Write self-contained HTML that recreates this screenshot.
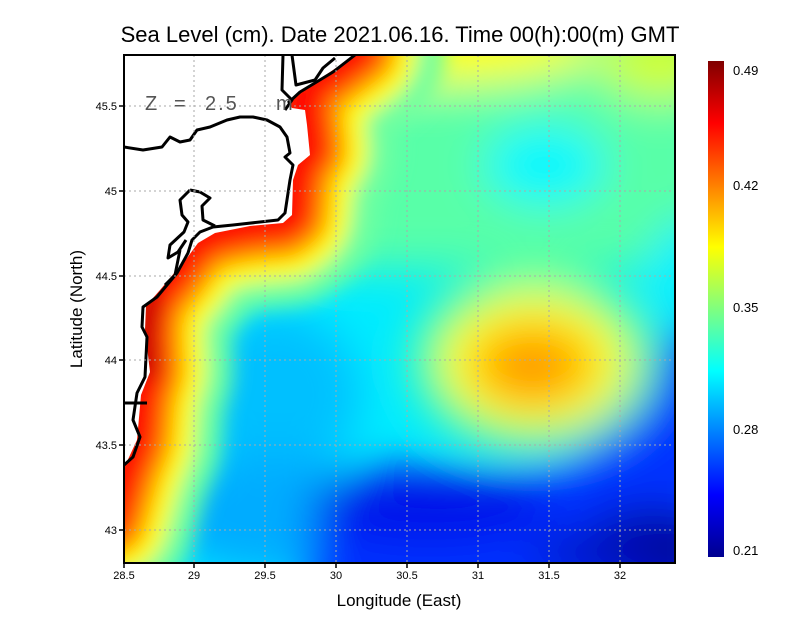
<!DOCTYPE html>
<html><head><meta charset="utf-8"><style>
html,body{margin:0;padding:0;background:#fff;}
svg{display:block;font-family:"Liberation Sans",sans-serif;}
</style></head><body>
<svg width="800" height="618" viewBox="0 0 800 618" xmlns="http://www.w3.org/2000/svg">
<defs>
<clipPath id="pc"><rect x="124" y="55" width="551" height="508"/></clipPath>
<filter id="b1" filterUnits="userSpaceOnUse" x="0" y="0" width="800" height="618"><feGaussianBlur stdDeviation="22"/></filter>
<filter id="b2" filterUnits="userSpaceOnUse" x="0" y="0" width="800" height="618"><feGaussianBlur stdDeviation="10"/></filter>
<linearGradient id="jet" x1="0" y1="1" x2="0" y2="0">
<stop offset="0" stop-color="#00008f"/><stop offset="0.125" stop-color="#0000ff"/>
<stop offset="0.375" stop-color="#00ffff"/><stop offset="0.625" stop-color="#ffff00"/>
<stop offset="0.875" stop-color="#ff0000"/><stop offset="1" stop-color="#800000"/>
</linearGradient>
</defs>
<g clip-path="url(#pc)">
<rect x="100" y="40" width="600" height="540" fill="#00ecff"/>
<g filter="url(#b1)">
<rect x="320" y="20" width="400" height="250" fill="#58ffa8"/>
<ellipse cx="430" cy="45" rx="170" ry="40" fill="#ffff00"/>
<ellipse cx="660" cy="60" rx="60" ry="40" fill="#d0ff30"/>
<ellipse cx="545" cy="165" rx="60" ry="40" fill="#00f8ff"/>
<ellipse cx="690" cy="270" rx="40" ry="50" fill="#00f0ff"/>
<ellipse cx="275" cy="395" rx="85" ry="85" fill="#00c0ff"/>
<ellipse cx="270" cy="515" rx="110" ry="60" fill="#00acff"/>
<path d="M300 620 L320 500 L380 465 L470 475 L560 465 L620 425 L660 340 L720 320 L720 620 Z" fill="#0030ff"/>
<ellipse cx="430" cy="505" rx="120" ry="35" fill="#0010e8"/>
<ellipse cx="650" cy="550" rx="70" ry="40" fill="#000090"/>
<ellipse cx="600" cy="555" rx="70" ry="20" fill="#0008c0"/>
<ellipse cx="535" cy="360" rx="125" ry="92" fill="#50ffa0"/>
<ellipse cx="533" cy="362" rx="95" ry="70" fill="#ffff00"/>
<ellipse cx="533" cy="365" rx="62" ry="43" fill="#ffb000"/>
<ellipse cx="530" cy="368" rx="30" ry="20" fill="#ff9000"/>
</g>
<g filter="url(#b2)" fill="none" stroke-linejoin="round" stroke-linecap="round">
<path d="M360 50 L330 72 L300 92 L292 105 L305 108 L310 150 L297 165 L292 215 L283 222 L250 225 L215 232 L195 242 L175 270 L150 300 L146 330 L148 370 L140 395 L136 440 L124 470 L110 520" stroke="#70ffa0" stroke-width="170"/>
<path d="M360 50 L330 72 L300 92 L292 105 L305 108 L310 150 L297 165 L292 215 L283 222 L250 225 L215 232 L195 242 L175 270 L150 300 L146 330 L148 370 L140 395 L136 440 L124 470 L110 520" stroke="#ffff00" stroke-width="115"/>
<path d="M360 50 L330 72 L300 92 L292 105 L305 108 L310 150 L297 165 L292 215 L283 222 L250 225 L215 232 L195 242 L175 270 L150 300 L146 330 L148 370 L140 395 L136 440 L124 470 L110 520" stroke="#ff9000" stroke-width="75"/>
<path d="M360 50 L330 72 L300 92 L292 105 L305 108 L310 150 L297 165 L292 215 L283 222 L250 225 L215 232 L195 242 L175 270 L150 300 L146 330 L148 370 L140 395 L136 440 L124 470 L110 520" stroke="#ff1000" stroke-width="42"/>
<path d="M150 300 L146 330 L148 370" stroke="#c00000" stroke-width="20"/>
</g>
<path d="M100 40 L365 40 L355 55 L330 72 L300 92 L288 103 L292 108 L305 110 L307 125 L310 155 L298 165 L293 180 L292 215 L283 223 L250 226 L215 233 L198 243 L187 258 L175 272 L160 290 L146 306 L145 330 L150 372 L141 395 L137 440 L124 468 L100 470 Z" fill="#fff"/>
<g fill="none" stroke="#000" stroke-width="3" stroke-linejoin="round">
<path d="M355 55 L333 72 L300 92 L288 103"/>
<path d="M283 55 L282 90 L292 100 L285 110"/>
<path d="M292 55 L296 85 L315 80 L323 68 L335 58"/>
<path d="M124 147 L143 150 L162 147 L170 137 L180 142 L190 140 L197 130 L210 127 L227 120 L240 117 L253 117 L267 120 L280 127 L287 137 L290 153 L285 157 L293 165 L290 180 L285 213 L278 220 L260 222 L233 225 L213 227 L200 232 L192 240 L188 253 L177 273 L157 297 L143 307 L142 327 L147 337 L145 377 L137 393 L133 420 L140 437 L133 457 L124 465"/>
<path d="M124 403 L147 403"/>
<path d="M190 190 L200 192 L210 198 L202 206 L203 220 L215 226"/>
<path d="M190 190 L180 200 L182 215 L188 222 L184 232 L170 245 L168 258 L178 252 L186 240"/>
<path d="M180 250 L175 275 L165 285"/>
</g>
</g>
<g stroke="#aaa" stroke-width="1" stroke-dasharray="2,3">
<path d="M194 55V563M265 55V563M336 55V563M407 55V563M478 55V563M549 55V563M620 55V563"/>
<path d="M124 106H675M124 191H675M124 276H675M124 360H675M124 445H675M124 530H675"/>
</g>
<rect x="124" y="55" width="551" height="508" fill="none" stroke="#000" stroke-width="2"/>
<g stroke="#000" stroke-width="1.5">
<path d="M124 563v5M194 563v5M265 563v5M336 563v5M407 563v5M478 563v5M549 563v5M620 563v5"/>
<path d="M119 106h5M119 191h5M119 276h5M119 360h5M119 445h5M119 530h5"/>
</g>
<g font-size="20" fill="#555">
<text x="145" y="110">Z</text><text x="174" y="110">=</text><text x="205" y="110" letter-spacing="2">2.5</text><text x="276" y="110">m</text>
</g>
<g font-size="11" text-anchor="middle" fill="#000">
<text x="124" y="579">28.5</text><text x="194" y="579">29</text><text x="265" y="579">29.5</text><text x="336" y="579">30</text><text x="407" y="579">30.5</text><text x="478" y="579">31</text><text x="549" y="579">31.5</text><text x="620" y="579">32</text>
</g>
<g font-size="11" text-anchor="end" fill="#000">
<text x="117" y="110">45.5</text><text x="117" y="195">45</text><text x="117" y="280">44.5</text><text x="117" y="364">44</text><text x="117" y="449">43.5</text><text x="117" y="534">43</text>
</g>
<text x="400" y="42" font-size="22" text-anchor="middle">Sea Level (cm). Date 2021.06.16. Time 00(h):00(m) GMT</text>
<text x="399" y="606" font-size="17" text-anchor="middle">Longitude (East)</text>
<text transform="translate(82,309) rotate(-90)" font-size="17" text-anchor="middle">Latitude (North)</text>
<rect x="708" y="61" width="16" height="496" fill="url(#jet)"/>
<g font-size="13" fill="#000">
<text x="733" y="75">0.49</text><text x="733" y="190">0.42</text><text x="733" y="312">0.35</text><text x="733" y="434">0.28</text><text x="733" y="555">0.21</text>
</g>
</svg>
</body></html>
